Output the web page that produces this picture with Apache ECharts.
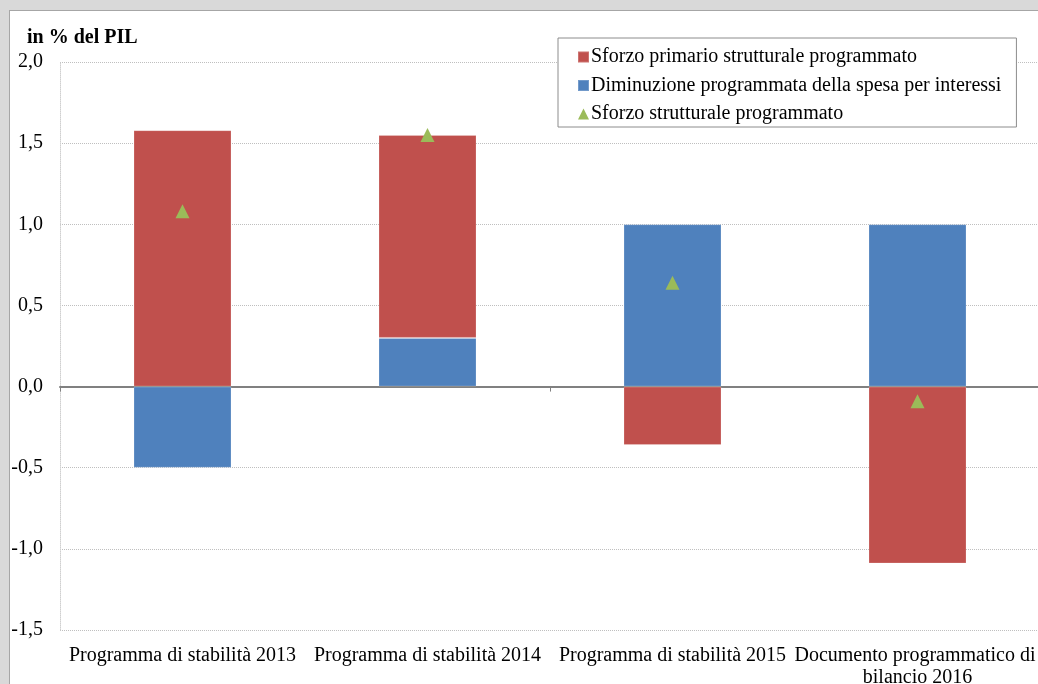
<!DOCTYPE html>
<html>
<head>
<meta charset="utf-8">
<script src="https://cdn.jsdelivr.net/npm/echarts@6/dist/echarts.min.js"></script>
<style>
html,body{margin:0;padding:0;width:1038px;height:684px;overflow:hidden;background:#d9d9d9;}
#frame{position:absolute;left:9px;top:10px;width:1040px;height:690px;background:#fff;border:1px solid #a6a6a6;}
#chart{width:1040px;height:690px;}
</style>
</head>
<body>
<div id="frame"><div id="chart"></div></div>
<script>
const categories = ["Programma di stabilità 2013", "Programma di stabilità 2014", "Programma di stabilità 2015", "Documento programmatico di bilancio 2016"];
const sforzoPrimario = [1.58, 1.25, -0.36, -1.09];
const diminuzioneInteressi = [-0.50, 0.30, 1.00, 1.00];
const sforzoStrutturale = [1.08, 1.55, 0.64, -0.09];
const seriesNames = ["Sforzo primario strutturale programmato", "Diminuzione programmata della spesa per interessi", "Sforzo strutturale programmato"];
const yTitle = "in % del PIL";

const serif = "'Liberation Serif', 'Times New Roman', serif";
const chart = echarts.init(document.getElementById('chart'), null, {renderer: 'canvas'});
chart.setOption({
  animation: false,
  title: {
    text: yTitle, left: 12, top: 12,
    textStyle: {fontFamily: serif, fontSize: 20, fontWeight: 'bold', color: '#000'}
  },
  legend: {
    data: [
      {name: seriesNames[0], icon: 'rect'},
      {name: seriesNames[1], icon: 'rect'},
      {name: seriesNames[2], icon: 'triangle'}
    ],
    orient: 'vertical',
    left: 548, top: 27,
    padding: [9, 15, 3, 19],
    itemGap: 8.5,
    itemWidth: 11, itemHeight: 11,
    borderColor: '#8c8c8c', borderWidth: 1,
    backgroundColor: '#fff',
    textStyle: {fontFamily: serif, fontSize: 20, color: '#000', lineHeight: 17, padding: [0,0,0,-3]}
  },
  grid: {left: 50, top: 51, right: 10, bottom: 71, containLabel: false, outerBoundsMode: 'none'},
  xAxis: [
    {
      type: 'category', data: categories, position: 'bottom',
      axisLine: {show: false, onZero: false},
      axisTick: {show: false},
      splitLine: {show: false},
      axisLabel: {interval: 0, margin: 15, fontFamily: serif, fontSize: 20, color: '#000',
        width: 250, overflow: 'break', lineHeight: 22}
    },
    {
      type: 'category', data: categories, position: 'bottom',
      axisLine: {show: true, onZero: true, lineStyle: {color: '#808080', width: 2}},
      axisTick: {show: true, length: 5, lineStyle: {color: '#808080', width: 1}},
      axisLabel: {show: false},
      splitLine: {show: false}
    }
  ],
  yAxis: {
    type: 'value', min: -1.5, max: 2.0, interval: 0.5,
    axisLine: {show: true, lineStyle: {color: '#d0d0d0', type: 'dotted', width: 1}},
    axisTick: {show: false},
    splitLine: {show: true, lineStyle: {color: '#bfbfbf', type: 'dotted', width: 1}},
    axisLabel: {margin: 17, fontFamily: serif, fontSize: 20, color: '#000',
      formatter: v => v.toFixed(1).replace('.', ',')}
  },
  series: [
    {
      name: seriesNames[1], type: 'bar', stack: 'tot', data: diminuzioneInteressi,
      barWidth: '40%', xAxisIndex: 0,
      itemStyle: {color: '#4F81BD', borderColor: 'rgba(255,255,255,0.2)', borderWidth: 1}
    },
    {
      name: seriesNames[0], type: 'bar', stack: 'tot', data: sforzoPrimario,
      barWidth: '40%', xAxisIndex: 0,
      itemStyle: {color: '#C0504D', borderColor: 'rgba(255,255,255,0.2)', borderWidth: 1}
    },
    {
      name: seriesNames[2], type: 'scatter', data: sforzoStrutturale, xAxisIndex: 0,
      symbol: 'triangle', symbolSize: [14, 14], z: 5,
      itemStyle: {color: '#9BBB59', opacity: 1}
    }
  ]
});
</script>
</body>
</html>
